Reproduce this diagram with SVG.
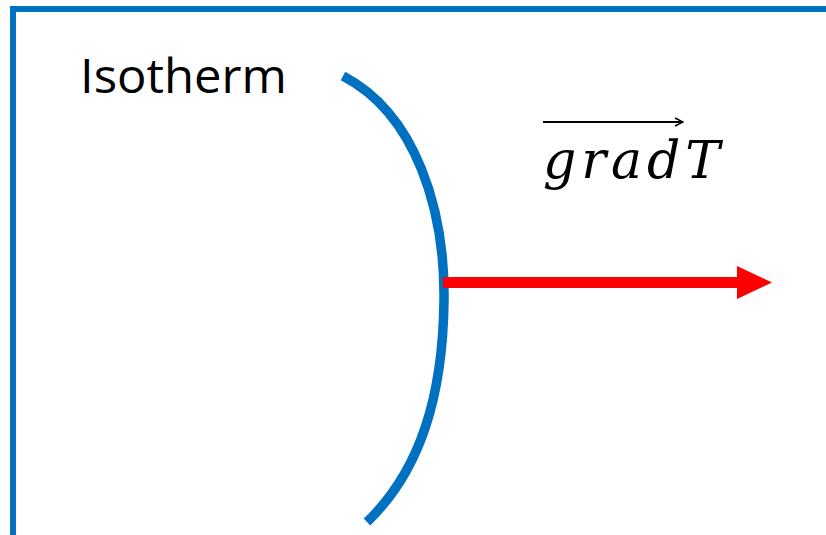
<svg xmlns="http://www.w3.org/2000/svg" width="826" height="535" viewBox="0 0 826 535">
<style>
.frame{fill:none;stroke:#0070C0;stroke-width:6}
.iso{fill:none;stroke:#0070C0;stroke-width:9.5}
.lbl{font-family:"Open Sans","Noto Sans",sans-serif;font-size:47px;fill:#000}
.math{font-family:"DejaVu Serif","Liberation Serif",serif;font-style:italic;font-size:52px;fill:#000}
</style>
<defs>
<marker id="vec" viewBox="0 0 10 10" refX="9" refY="5" markerWidth="10" markerHeight="10" markerUnits="userSpaceOnUse" orient="auto">
<path d="M1,1 L9,5 L1,9" fill="none" stroke="#000" stroke-width="1.5"/>
</marker>
</defs>
<g id="frame"><path class="frame" d="M13,535 L13,9 L826,9"/></g>
<g id="isotherm">
<path class="iso" d="M343,76 C416,114 445,210 444,300 C443,395 421,470 367,522"/>
<text class="lbl" x="80" y="93" textLength="207" lengthAdjust="spacingAndGlyphs">Isotherm</text>
</g>
<g id="gradT">
<text class="math" x="543" y="178" textLength="177" lengthAdjust="spacing">gradT</text>
<line x1="543" y1="122" x2="683" y2="122" stroke="#000" stroke-width="2.2" marker-end="url(#vec)"/>
</g>
<g id="connectors">
<line x1="443" y1="282.5" x2="738" y2="282.5" stroke="#FF0000" stroke-width="11"/>
<polygon points="737,266 772,282.5 737,299" fill="#FF0000"/>
</g>
</svg>
